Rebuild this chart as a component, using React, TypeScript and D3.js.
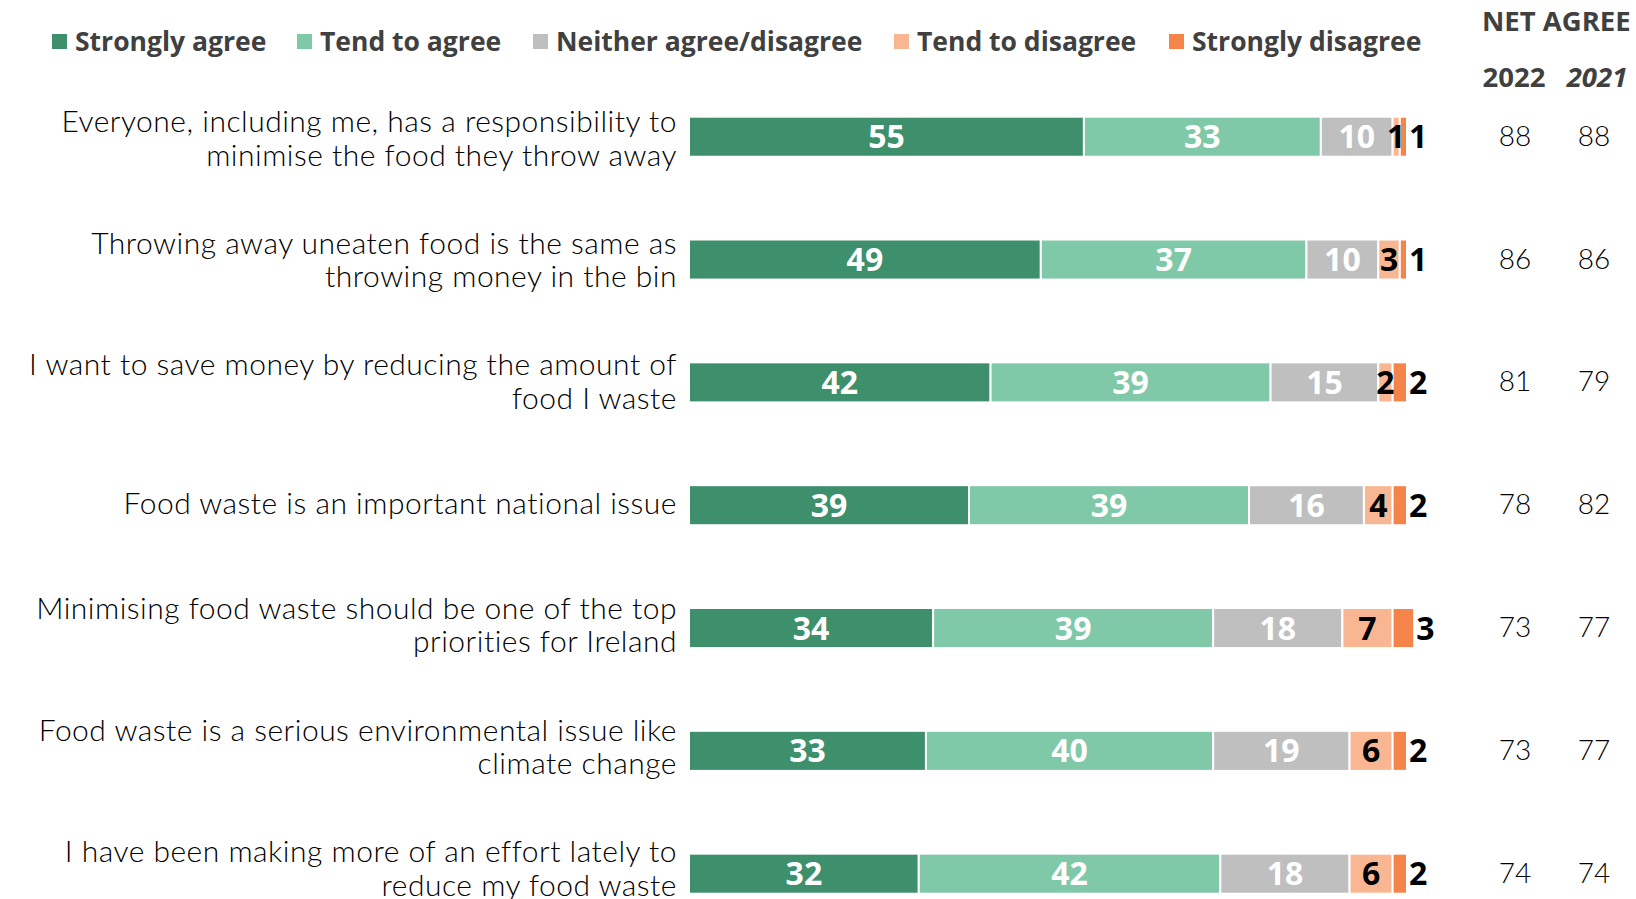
import React from "react";
import * as d3 from "d3";

const categories: string[][] = [
  ["Everyone, including me, has a responsibility to", "minimise the food they throw away"],
  ["Throwing away uneaten food is the same as", "throwing money in the bin"],
  ["I want to save money by reducing the amount of", "food I waste"],
  ["Food waste is an important national issue"],
  ["Minimising food waste should be one of the top", "priorities for Ireland"],
  ["Food waste is a serious environmental issue like", "climate change"],
  ["I have been making more of an effort lately to", "reduce my food waste"],
];

const seriesNames = ["Strongly agree", "Tend to agree", "Neither agree/disagree", "Tend to disagree", "Strongly disagree"];
const stronglyAgree = [55, 49, 42, 39, 34, 33, 32];
const tendToAgree = [33, 37, 39, 39, 39, 40, 42];
const neither = [10, 10, 15, 16, 18, 19, 18];
const tendToDisagree = [1, 3, 2, 4, 7, 6, 6];
const stronglyDisagree = [1, 1, 2, 2, 3, 2, 2];
const net2022 = [88, 86, 81, 78, 73, 73, 74];
const net2021 = [88, 86, 79, 82, 77, 77, 74];
const colors = ["#3e8f6b", "#80c9a8", "#bfbfbf", "#f9b693", "#f5844a"];
const labelColors = ["#ffffff", "#ffffff", "#ffffff", "#000000", "#000000"];

const W = 1636;
const H = 899;
const LABEL_FONT = "'Lato', 'Open Sans', sans-serif";
const BOLD_FONT = "'Open Sans', 'Noto Sans', sans-serif";

export default function App() {
  const series = [stronglyAgree, tendToAgree, neither, tendToDisagree, stronglyDisagree];
  const rows = categories.map((c, i) => {
    const obj: any = { idx: i };
    seriesNames.forEach((s, k) => (obj[s] = series[k][i]));
    return obj;
  });
  const stack = d3.stack<any>().keys(seriesNames)(rows);

  const x = d3.scaleLinear().domain([0, 100]).range([689, 1407]);
  const y = d3.scaleBand<number>().domain(d3.range(categories.length)).range([75.3, 935.1]).paddingInner(0.674).paddingOuter(0.337);
  const bh = y.bandwidth();
  const yLabel = d3.scalePoint<number>().domain(d3.range(categories.length)).range([138.8, 869]);

  const legendX = [52, 297, 533, 894, 1169];

  return (
    <svg width={W} height={H} style={{ position: "absolute", left: 0, top: 0, background: "#fff" }}>
      {/* legend */}
      {seriesNames.map((s, k) => (
        <g key={s}>
          <rect x={legendX[k]} y={34} width={15} height={15} fill={colors[k]} />
          <text x={legendX[k] + 23} y={51} fontFamily={BOLD_FONT} fontWeight={700} fontSize={26.5} fill="#404040">
            {s}
          </text>
        </g>
      ))}
      <text x={1482} y={31} fontFamily={BOLD_FONT} fontWeight={700} fontSize={27.5} fill="#404040">NET AGREE</text>
      <text x={1514} y={87} textAnchor="middle" fontFamily={BOLD_FONT} fontWeight={700} fontSize={27.5} fill="#404040">2022</text>
      <text x={1597} y={87} textAnchor="middle" fontFamily={BOLD_FONT} fontWeight={700} fontStyle="italic" fontSize={27.5} fill="#404040">2021</text>

      {/* category labels */}
      {categories.map((lines, i) => {
        const cy = yLabel(i) as number;
        const n = lines.length;
        return (
          <text key={i} textAnchor="end" fontFamily={LABEL_FONT} fontWeight={300} fontSize={30} letterSpacing={0.5} fill="#000">
            {lines.map((l, j) => (
              <tspan key={j} x={677} y={cy + (j - (n - 1) / 2) * 33.5 + 10}>
                {l}
              </tspan>
            ))}
          </text>
        );
      })}

      {/* bars */}
      {stack.map((layer, k) => (
        <g key={layer.key}>
          {layer.map((d, i) => (
            <rect
              key={i}
              x={x(d[0])}
              y={y(i)}
              width={x(d[1]) - x(d[0])}
              height={bh}
              fill={colors[k]}
              stroke="#fff"
              strokeWidth={2}
            />
          ))}
        </g>
      ))}

      {/* value labels */}
      {stack.map((layer, k) => (
        <g key={"l" + layer.key}>
          {layer.map((d, i) => {
            const v = series[k][i];
            const cy = (y(i) as number) + bh / 2 + 11.5;
            const last = k === seriesNames.length - 1;
            return (
              <text
                key={i}
                x={last ? x(d[1]) + 2 : (x(d[0]) + x(d[1])) / 2}
                y={cy}
                textAnchor={last ? "start" : "middle"}
                fontFamily={BOLD_FONT}
                fontWeight={700}
                fontSize={32}
                fill={labelColors[k]}
              >
                {v}
              </text>
            );
          })}
        </g>
      ))}

      {/* net agree */}
      {categories.map((_, i) => {
        const cy = (y(i) as number) + bh / 2 + 9;
        return (
          <g key={"n" + i}>
            <text x={1515} y={cy} textAnchor="middle" fontFamily={LABEL_FONT} fontWeight={300} fontSize={28} fill="#000">{net2022[i]}</text>
            <text x={1594} y={cy} textAnchor="middle" fontFamily={LABEL_FONT} fontWeight={300} fontSize={28} fill="#000">{net2021[i]}</text>
          </g>
        );
      })}
    </svg>
  );
}
